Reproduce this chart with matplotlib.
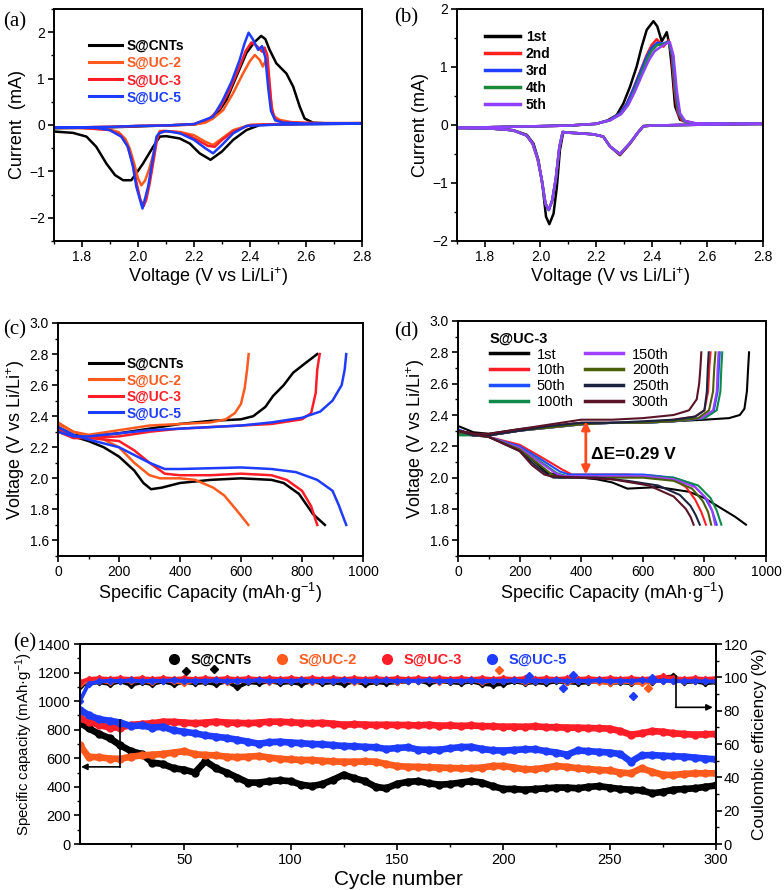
import matplotlib
matplotlib.use("Agg")
import matplotlib.pyplot as plt
from matplotlib.ticker import MultipleLocator
from matplotlib.lines import Line2D

plt.rcParams['font.family'] = ['Liberation Sans', 'DejaVu Sans']
plt.rcParams['mathtext.fontset'] = 'custom'
plt.rcParams['mathtext.rm'] = 'Liberation Sans'
plt.rcParams['mathtext.it'] = 'Liberation Sans:italic'
plt.rcParams['axes.linewidth'] = 1.4

# ---------------- colours ----------------
C_BLACK = '#000000'
C_ORANGE = '#ff5a1e'
C_RED = '#ff1e28'
C_BLUE = '#1e3cff'

# ---------------- (a) CV curves ----------------
a_labels = ['S@CNTs', 'S@UC-2', 'S@UC-3', 'S@UC-5']
a_cnt_v = [1.70, 1.80, 1.90, 2.00, 2.10, 2.20, 2.244, 2.28, 2.316, 2.351, 2.387, 2.415, 2.44, 2.455, 2.47, 2.494,
           2.53, 2.554, 2.578, 2.595, 2.625, 2.70, 2.80,
           2.80, 2.60, 2.50, 2.435, 2.387, 2.34, 2.30, 2.259, 2.22, 2.185, 2.149, 2.10, 2.078, 2.054, 2.018,
           1.994, 1.976, 1.947, 1.918, 1.887, 1.851, 1.816, 1.768, 1.70]
a_cnt_i = [-0.07, -0.06, -0.05, -0.03, -0.01, 0.01, 0.07, 0.22, 0.54, 1.04, 1.55, 1.78, 1.92, 1.85, 1.62, 1.33,
           1.11, 0.83, 0.39, 0.14, 0.05, 0.03, 0.03,
           0.03, 0.02, 0.01, 0.0, -0.11, -0.32, -0.57, -0.75, -0.61, -0.40, -0.29, -0.24, -0.25, -0.47, -0.83,
           -1.04, -1.19, -1.19, -1.08, -0.83, -0.47, -0.25, -0.17, -0.14]
a_uc2_v = [1.70, 1.80, 1.90, 2.00, 2.10, 2.20, 2.24, 2.268, 2.304, 2.339, 2.375, 2.40, 2.417, 2.435, 2.446, 2.458,
           2.466, 2.474, 2.483, 2.506, 2.55, 2.65, 2.80,
           2.80, 2.50, 2.40, 2.34, 2.30, 2.268, 2.24, 2.20, 2.15, 2.10, 2.078, 2.07, 2.055, 2.04, 2.025, 2.012,
           2.0, 1.985, 1.97, 1.955, 1.93, 1.90, 1.80, 1.70]
a_uc2_i = [-0.06, -0.05, -0.04, -0.02, -0.01, 0.01, 0.05, 0.14, 0.32, 0.68, 1.11, 1.38, 1.51, 1.40, 1.26, 1.42,
           1.10, 0.55, 0.20, 0.11, 0.06, 0.04, 0.04,
           0.04, 0.02, 0.0, -0.11, -0.29, -0.43, -0.36, -0.22, -0.15, -0.13, -0.13, -0.25, -0.62, -0.95, -1.2, -1.3,
           -1.15, -0.8, -0.5, -0.3, -0.15, -0.1, -0.07, -0.06]
a_uc3_v = [1.70, 1.80, 1.90, 2.00, 2.10, 2.20, 2.256, 2.292, 2.327, 2.363, 2.385, 2.405, 2.425, 2.443, 2.452, 2.462,
           2.47, 2.478, 2.49, 2.52, 2.60, 2.80,
           2.80, 2.50, 2.40, 2.34, 2.30, 2.274, 2.25, 2.22, 2.18, 2.13, 2.09, 2.078, 2.068, 2.058, 2.042, 2.03, 2.02,
           2.008, 1.995, 1.98, 1.962, 1.94, 1.90, 1.80, 1.70]
a_uc3_i = [-0.06, -0.05, -0.04, -0.02, -0.01, 0.02, 0.14, 0.36, 0.75, 1.26, 1.6, 1.78, 1.7, 1.58, 1.67, 1.5,
           0.9, 0.35, 0.12, 0.06, 0.04, 0.04,
           0.04, 0.02, 0.0, -0.14, -0.32, -0.47, -0.45, -0.35, -0.22, -0.15, -0.13, -0.15, -0.3, -0.68, -1.25, -1.6,
           -1.75, -1.6, -1.25, -0.8, -0.45, -0.23, -0.11, -0.06, -0.05]
a_uc5_v = [1.70, 1.80, 1.90, 2.00, 2.10, 2.20, 2.268, 2.30, 2.334, 2.363, 2.38, 2.395, 2.41, 2.429, 2.443, 2.455,
           2.465, 2.475, 2.49, 2.52, 2.60, 2.80,
           2.80, 2.50, 2.387, 2.34, 2.30, 2.268, 2.24, 2.20, 2.15, 2.10, 2.075, 2.066, 2.054, 2.036, 2.016, 1.994,
           1.982, 1.964, 1.94, 1.899, 1.84, 1.70]
a_uc5_i = [-0.06, -0.05, -0.04, -0.02, -0.01, 0.02, 0.18, 0.50, 0.93, 1.40, 1.75, 1.99, 1.85, 1.62, 1.70, 1.45,
           0.8, 0.3, 0.1, 0.05, 0.03, 0.03,
           0.03, 0.01, -0.02, -0.18, -0.43, -0.61, -0.5, -0.32, -0.18, -0.13, -0.18, -0.25, -0.68, -1.33, -1.8, -1.33,
           -0.9, -0.47, -0.25, -0.11, -0.05, -0.05]

# ---------------- (b) CV cycles ----------------
b_labels = ['1st', '2nd', '3rd', '4th', '5th']
b1_v = [1.70, 1.80, 1.90, 2.00, 2.10, 2.20, 2.238, 2.274, 2.298, 2.322, 2.346, 2.364, 2.382, 2.406, 2.42, 2.436,
        2.454, 2.463, 2.472, 2.484, 2.502, 2.55, 2.80,
        2.80, 2.50, 2.40, 2.37, 2.352, 2.322, 2.286, 2.25, 2.226, 2.19, 2.13, 2.095, 2.082, 2.07, 2.059, 2.047,
        2.032, 2.02, 2.008, 1.993, 1.975, 1.951, 1.903, 1.82, 1.70]
b1_i = [-0.05, -0.04, -0.03, -0.02, -0.01, 0.02, 0.07, 0.17, 0.37, 0.66, 1.01, 1.35, 1.64, 1.79, 1.7, 1.44,
        1.6, 1.4, 1.01, 0.32, 0.09, 0.03, 0.02,
        0.02, 0.0, -0.01, -0.02, -0.12, -0.32, -0.52, -0.37, -0.2, -0.16, -0.14, -0.13, -0.12, -0.43, -1.07, -1.53,
        -1.71, -1.58, -1.07, -0.61, -0.32, -0.17, -0.09, -0.06, -0.05]
b2_v = [1.70, 1.80, 1.90, 2.00, 2.10, 2.20, 2.25, 2.286, 2.31, 2.334, 2.358, 2.382, 2.40, 2.418, 2.442, 2.46,
        2.472, 2.482, 2.494, 2.51, 2.55, 2.80,
        2.80, 2.50, 2.40, 2.37, 2.352, 2.322, 2.286, 2.25, 2.226, 2.19, 2.13, 2.09, 2.08, 2.068, 2.055, 2.042,
        2.03, 2.018, 2.005, 1.99, 1.972, 1.95, 1.90, 1.82, 1.70]
b2_i = [-0.05, -0.04, -0.03, -0.02, -0.01, 0.02, 0.09, 0.2, 0.37, 0.63, 0.92, 1.21, 1.38, 1.48, 1.35, 1.46,
        1.2, 0.6, 0.2, 0.07, 0.03, 0.02,
        0.02, 0.0, -0.01, -0.02, -0.12, -0.32, -0.51, -0.37, -0.2, -0.16, -0.14, -0.13, -0.12, -0.4, -0.95, -1.32,
        -1.46, -1.35, -0.95, -0.6, -0.33, -0.18, -0.09, -0.06, -0.05]
b3_v = [1.70, 1.80, 1.90, 2.00, 2.10, 2.20, 2.25, 2.286, 2.31, 2.334, 2.358, 2.382, 2.40, 2.42, 2.44, 2.46,
        2.474, 2.485, 2.497, 2.515, 2.55, 2.80,
        2.80, 2.50, 2.40, 2.37, 2.352, 2.322, 2.286, 2.25, 2.226, 2.19, 2.13, 2.09, 2.08, 2.068, 2.055, 2.042,
        2.03, 2.018, 2.005, 1.99, 1.972, 1.95, 1.90, 1.82, 1.70]
b3_i = [-0.05, -0.04, -0.03, -0.02, -0.01, 0.02, 0.09, 0.2, 0.36, 0.62, 0.9, 1.18, 1.33, 1.42, 1.4, 1.44,
        1.2, 0.6, 0.2, 0.07, 0.03, 0.02,
        0.02, 0.0, -0.01, -0.02, -0.12, -0.31, -0.5, -0.37, -0.2, -0.16, -0.14, -0.13, -0.12, -0.38, -0.93, -1.3,
        -1.47, -1.36, -0.95, -0.58, -0.32, -0.18, -0.09, -0.06, -0.05]
b4_v = [1.70, 1.80, 1.90, 2.00, 2.10, 2.20, 2.25, 2.29, 2.315, 2.338, 2.362, 2.385, 2.40, 2.42, 2.44, 2.462,
        2.476, 2.487, 2.499, 2.517, 2.55, 2.80,
        2.80, 2.50, 2.40, 2.37, 2.352, 2.322, 2.286, 2.25, 2.226, 2.19, 2.13, 2.09, 2.08, 2.068, 2.055, 2.042,
        2.03, 2.018, 2.005, 1.99, 1.972, 1.95, 1.90, 1.82, 1.70]
b4_i = [-0.05, -0.04, -0.03, -0.02, -0.01, 0.02, 0.08, 0.19, 0.35, 0.6, 0.88, 1.15, 1.28, 1.38, 1.39, 1.43,
        1.2, 0.6, 0.2, 0.07, 0.03, 0.02,
        0.02, 0.0, -0.01, -0.02, -0.12, -0.31, -0.5, -0.37, -0.2, -0.16, -0.14, -0.13, -0.12, -0.38, -0.93, -1.3,
        -1.46, -1.36, -0.95, -0.58, -0.32, -0.18, -0.09, -0.06, -0.05]
b5_v = [1.70, 1.80, 1.90, 2.00, 2.10, 2.20, 2.25, 2.29, 2.315, 2.34, 2.365, 2.39, 2.41, 2.43, 2.45, 2.465,
        2.478, 2.49, 2.502, 2.52, 2.56, 2.80,
        2.80, 2.50, 2.40, 2.37, 2.352, 2.322, 2.286, 2.25, 2.226, 2.19, 2.13, 2.09, 2.08, 2.068, 2.055, 2.042,
        2.03, 2.018, 2.005, 1.99, 1.972, 1.95, 1.90, 1.82, 1.70]
b5_i = [-0.05, -0.04, -0.03, -0.02, -0.01, 0.02, 0.08, 0.19, 0.34, 0.58, 0.86, 1.12, 1.27, 1.34, 1.4, 1.43,
        1.2, 0.6, 0.2, 0.07, 0.03, 0.02,
        0.02, 0.0, -0.01, -0.02, -0.12, -0.31, -0.5, -0.37, -0.2, -0.16, -0.14, -0.13, -0.12, -0.38, -0.93, -1.3,
        -1.46, -1.36, -0.95, -0.58, -0.32, -0.18, -0.09, -0.06, -0.05]

# ---------------- (c) charge / discharge ----------------
c_cnt_dis_q = [0, 50, 100, 150, 200, 250, 280, 305, 340, 400, 500, 600, 700, 740, 790, 836, 875]
c_cnt_dis_v = [2.31, 2.27, 2.24, 2.20, 2.14, 2.05, 1.97, 1.93, 1.94, 1.97, 1.99, 2.0, 1.99, 1.97, 1.90, 1.77, 1.70]
c_cnt_chg_q = [0, 50, 100, 150, 200, 300, 400, 500, 600, 640, 680, 705, 740, 771, 810, 850]
c_cnt_chg_v = [2.33, 2.28, 2.27, 2.28, 2.29, 2.32, 2.35, 2.37, 2.38, 2.40, 2.46, 2.53, 2.60, 2.68, 2.74, 2.80]
c_uc2_dis_q = [0, 50, 100, 150, 200, 250, 300, 335, 400, 450, 509, 545, 575, 600, 624]
c_uc2_dis_v = [2.35, 2.30, 2.27, 2.25, 2.20, 2.10, 2.02, 2.00, 2.00, 1.99, 1.94, 1.89, 1.82, 1.76, 1.70]
c_uc2_chg_q = [0, 50, 100, 200, 300, 400, 500, 550, 580, 600, 612, 620, 625]
c_uc2_chg_v = [2.36, 2.30, 2.28, 2.31, 2.34, 2.35, 2.36, 2.38, 2.42, 2.48, 2.58, 2.70, 2.80]
c_uc3_dis_q = [0, 50, 100, 200, 250, 300, 350, 400, 500, 600, 700, 750, 800, 830, 850]
c_uc3_dis_v = [2.30, 2.26, 2.26, 2.24, 2.18, 2.10, 2.03, 2.02, 2.02, 2.03, 2.02, 1.99, 1.92, 1.82, 1.70]
c_uc3_chg_q = [0, 50, 100, 200, 300, 400, 500, 600, 700, 800, 830, 845, 850, 858]
c_uc3_chg_v = [2.32, 2.26, 2.26, 2.27, 2.30, 2.32, 2.33, 2.34, 2.35, 2.38, 2.42, 2.55, 2.70, 2.80]
c_uc5_dis_q = [0, 50, 100, 200, 300, 350, 400, 600, 700, 780, 850, 900, 920, 945]
c_uc5_dis_v = [2.33, 2.28, 2.25, 2.20, 2.10, 2.06, 2.06, 2.07, 2.06, 2.04, 1.99, 1.92, 1.83, 1.70]
c_uc5_chg_q = [0, 50, 100, 200, 300, 400, 600, 700, 800, 860, 900, 930, 940, 945]
c_uc5_chg_v = [2.30, 2.27, 2.27, 2.29, 2.31, 2.32, 2.34, 2.36, 2.39, 2.43, 2.50, 2.60, 2.70, 2.80]

# ---------------- (d) S@UC-3 cycles ----------------
d_labels = ['1st', '10th', '50th', '100th', '150th', '200th', '250th', '300th']
d_dis_q = [
    [0, 50, 100, 200, 250, 290, 350, 450, 500, 550, 650, 750, 800, 850, 900, 935],
    [0, 100, 200, 280, 340, 370, 450, 550, 650, 700, 740, 770, 790, 805],
    [0, 100, 200, 275, 330, 360, 500, 600, 700, 760, 800, 825, 840],
    [0, 100, 200, 270, 320, 350, 500, 600, 700, 780, 820, 840, 855],
    [0, 100, 200, 265, 315, 340, 500, 600, 700, 770, 810, 825, 835],
    [0, 100, 200, 260, 305, 330, 500, 600, 700, 760, 795, 812, 822],
    [0, 100, 200, 250, 290, 310, 450, 550, 650, 720, 755, 772, 785],
    [0, 100, 200, 240, 280, 300, 400, 500, 620, 700, 740, 755, 765],
]
d_dis_v = [
    [2.30, 2.28, 2.26, 2.18, 2.10, 2.03, 2.01, 1.99, 1.97, 1.93, 1.94, 1.91, 1.87, 1.81, 1.75, 1.70],
    [2.28, 2.26, 2.21, 2.12, 2.05, 2.02, 2.02, 2.02, 2.01, 1.99, 1.94, 1.86, 1.78, 1.70],
    [2.29, 2.26, 2.20, 2.11, 2.04, 2.02, 2.02, 2.02, 2.00, 1.96, 1.88, 1.79, 1.70],
    [2.28, 2.26, 2.19, 2.10, 2.03, 2.01, 2.01, 2.01, 2.00, 1.95, 1.87, 1.79, 1.70],
    [2.29, 2.26, 2.19, 2.10, 2.03, 2.01, 2.01, 2.01, 1.99, 1.94, 1.86, 1.79, 1.70],
    [2.29, 2.26, 2.18, 2.09, 2.02, 2.00, 2.00, 2.00, 1.98, 1.93, 1.85, 1.78, 1.70],
    [2.30, 2.26, 2.17, 2.08, 2.02, 2.00, 2.00, 1.98, 1.95, 1.89, 1.82, 1.76, 1.70],
    [2.30, 2.26, 2.17, 2.08, 2.02, 2.01, 2.00, 1.99, 1.95, 1.88, 1.80, 1.75, 1.70],
]
d_chg_q = [
    [0, 50, 100, 200, 300, 400, 500, 600, 700, 800, 880, 915, 930, 938, 942, 945],
    [0, 50, 100, 200, 300, 400, 500, 600, 700, 770, 800, 812, 816, 820],
    [0, 50, 100, 200, 300, 400, 500, 600, 700, 800, 830, 843, 847, 850],
    [0, 50, 100, 200, 300, 400, 500, 600, 700, 800, 840, 852, 855, 858],
    [0, 50, 100, 200, 300, 400, 500, 600, 700, 790, 828, 840, 843, 846],
    [0, 50, 100, 200, 300, 400, 500, 600, 700, 780, 815, 828, 832, 836],
    [0, 50, 100, 200, 300, 400, 500, 600, 700, 770, 800, 808, 811, 814],
    [0, 50, 100, 200, 300, 400, 500, 600, 700, 750, 775, 783, 787, 790],
]
d_chg_v = [
    [2.33, 2.29, 2.28, 2.31, 2.33, 2.35, 2.35, 2.35, 2.36, 2.37, 2.38, 2.40, 2.44, 2.55, 2.70, 2.80],
    [2.30, 2.27, 2.27, 2.30, 2.33, 2.35, 2.35, 2.35, 2.37, 2.39, 2.43, 2.55, 2.70, 2.80],
    [2.31, 2.27, 2.27, 2.30, 2.32, 2.34, 2.35, 2.35, 2.36, 2.38, 2.42, 2.55, 2.70, 2.80],
    [2.27, 2.27, 2.27, 2.30, 2.32, 2.34, 2.35, 2.35, 2.36, 2.38, 2.43, 2.55, 2.70, 2.80],
    [2.30, 2.27, 2.27, 2.30, 2.32, 2.34, 2.35, 2.35, 2.36, 2.38, 2.43, 2.55, 2.70, 2.80],
    [2.30, 2.27, 2.27, 2.30, 2.32, 2.34, 2.35, 2.35, 2.36, 2.38, 2.43, 2.55, 2.70, 2.80],
    [2.30, 2.27, 2.27, 2.30, 2.33, 2.35, 2.35, 2.36, 2.37, 2.39, 2.43, 2.55, 2.70, 2.80],
    [2.30, 2.28, 2.28, 2.31, 2.34, 2.37, 2.37, 2.38, 2.40, 2.43, 2.50, 2.60, 2.70, 2.80],
]
d_colors = ['#000000', '#ff1e28', '#1e50ff', '#0f8a4a', '#a040ff', '#4a5e0a', '#1c2340', '#5a1428']

# ---------------- (e) cycling ----------------
e_cycles = [1, 5, 10, 15, 20, 25, 30, 35, 40, 45, 50, 55, 60, 65, 70, 75, 80, 85, 90, 95, 100,
            105, 110, 115, 120, 125, 130, 135, 140, 145, 150, 155, 160, 165, 170, 175, 180, 185, 190, 195, 200,
            205, 210, 215, 220, 225, 230, 235, 240, 245, 250, 255, 260, 265, 270, 275, 280, 285, 290, 295, 300]
e_cnt_cap = [850, 810, 770, 740, 690, 650, 630, 570, 560, 530, 520, 500, 580, 530, 500, 465, 430, 430, 440, 445, 440,
             415, 405, 420, 450, 485, 460, 440, 400, 390, 420, 435, 440, 425, 415, 420, 430, 440, 430, 405, 385,
             385, 380, 385, 390, 395, 395, 390, 400, 405, 395, 385, 380, 375, 355, 365, 380, 385, 390, 400, 410]
e_uc2_cap = [690, 610, 607, 598, 596, 611, 620, 625, 630, 640, 650, 628, 623, 620, 611, 608, 611, 616, 605, 596, 592,
             588, 588, 582, 578, 576, 576, 578, 576, 560, 546, 541, 540, 537, 535, 532, 530, 530, 535, 546, 546,
             535, 523, 523, 535, 546, 540, 530, 525, 518, 515, 500, 495, 530, 505, 485, 483, 490, 495, 495, 495]
e_uc3_cap = [880, 856, 833, 815, 815, 833, 840, 845, 856, 855, 850, 845, 850, 856, 850, 848, 845, 850, 856, 856, 852,
             848, 845, 848, 842, 835, 838, 836, 833, 835, 833, 833, 830, 835, 828, 830, 826, 830, 825, 824, 821,
             822, 820, 824, 818, 817, 815, 814, 812, 810, 808, 790, 765, 775, 790, 786, 775, 770, 765, 768, 770]
e_uc5_cap = [940, 903, 873, 863, 850, 825, 830, 815, 821, 795, 786, 775, 760, 751, 742, 730, 716, 702, 712, 716, 710,
             706, 700, 698, 692, 686, 684, 680, 677, 665, 672, 677, 660, 660, 660, 670, 678, 680, 665, 656, 654,
             658, 663, 663, 650, 640, 625, 655, 650, 645, 640, 630, 576, 620, 623, 618, 614, 612, 605, 598, 593]
e_cnt_ce = [95, 96.5, 97, 96, 97.5, 95.5, 97, 96, 97.5, 96, 97, 96.5, 97, 96, 97.5, 94, 97, 96.5, 97.5, 96.5, 97,
            96, 97.5, 96.5, 97, 96, 97.5, 96, 97, 96.5, 97, 97.5, 98, 96.5, 97.5, 97, 96.5, 97.5, 96, 95.5, 96,
            97.5, 96.5, 97, 96.5, 97.5, 97, 96.5, 97, 97.5, 96.5, 97, 96.5, 97.5, 97, 100, 100.5, 97, 97.5, 96.5, 97]
e_uc2_ce = [96, 97.5, 98, 97, 98.5, 97.5, 98, 97, 98.5, 97.5, 96.5, 98, 97.5, 98.5, 97, 98, 97.5, 98.5, 97, 98, 97.5,
            98.5, 97, 98, 97.5, 98.5, 97, 98, 97.5, 98.5, 97, 98, 97.5, 98.5, 97, 98, 97.5, 98.5, 97, 98, 97.5,
            98.5, 97, 98, 97.5, 98.5, 97, 98, 97.5, 97, 96.5, 97.5, 97, 96.5, 97.5, 98, 97.5, 98, 97.5, 98, 97.5]
e_uc3_ce = [97, 99, 99.5, 99, 99.5, 99, 99.5, 99, 99.5, 99, 99.5, 99, 99.5, 99, 99.5, 99, 99.5, 99, 99.5, 99, 99.5,
            99, 99.5, 99, 99.5, 99, 99.5, 99, 99.5, 99, 99.5, 99, 99.5, 99, 99.5, 99, 99.5, 99, 99.5, 99, 99.5,
            99, 99.5, 99, 99.5, 99, 99.5, 99, 99.5, 99, 99.5, 99, 99.5, 99, 99.5, 100.5, 99.5, 99, 99.5, 99, 99.5]
e_uc5_ce = [86, 96, 97.5, 98, 97.8, 98.2, 97.6, 98, 97.8, 98.3, 97.7, 98, 97.8, 98.2, 97.6, 98, 97.8, 98.3, 97.7, 98, 97.8,
            98.2, 97.6, 98, 97.8, 98.3, 97.7, 98, 97.8, 98.2, 97.6, 98, 97.8, 98.3, 97.7, 98, 97.8, 98.2, 97.6, 98, 97.8,
            98.2, 97.6, 98, 97.8, 98.3, 97.7, 98, 97.8, 98.2, 97.6, 98, 97.8, 98.3, 97.7, 98, 97.8, 97.6, 97.8, 97.5, 97.6]
e_cnt_ce_out_c = [51, 64]
e_cnt_ce_out_v = [103.6, 104.8]
e_uc2_ce_out_c = [198, 268]
e_uc2_ce_out_v = [104.5, 93.5]
e_uc5_ce_out_c = [212, 228, 233, 261, 270]
e_uc5_ce_out_v = [101.0, 93.5, 101.6, 89.0, 99.5]
e_labels = ['S@CNTs', 'S@UC-2', 'S@UC-3', 'S@UC-5']
e_colors = [C_BLACK, C_ORANGE, C_RED, C_BLUE]

# =====================================================
W, H = 784, 890
fig = plt.figure(figsize=(W / 100, H / 100), dpi=100)


def ax_px(l, t, r, b):
    return fig.add_axes([l / W, 1 - b / H, (r - l) / W, (b - t) / H])


TICK_FS = 10
LAB_FS = 13


def style(ax):
    ax.tick_params(which='major', direction='out', length=4.5, width=1.2, labelsize=TICK_FS, pad=2,
                   top=False, right=False)
    ax.tick_params(which='minor', direction='out', length=2.5, width=1.0, top=False, right=False)


lw = 1.8
a_cols = [C_BLACK, C_ORANGE, C_RED, C_BLUE]

# ---- (a)
axa = ax_px(54, 9, 362, 241)
for v, i, c, lab in zip([a_cnt_v, a_uc2_v, a_uc3_v, a_uc5_v], [a_cnt_i, a_uc2_i, a_uc3_i, a_uc5_i],
                        a_cols, a_labels):
    axa.plot(v, i, color=c, lw=lw, label=lab)
axa.set_xlim(1.7, 2.8)
axa.set_ylim(-2.5, 2.5)
axa.set_xticks([1.8, 2.0, 2.2, 2.4, 2.6, 2.8])
axa.xaxis.set_minor_locator(MultipleLocator(0.1))
axa.yaxis.set_major_locator(MultipleLocator(1))
axa.yaxis.set_minor_locator(MultipleLocator(0.5))
style(axa)
axa.set_xlabel('Voltage (V vs Li/Li$^{+}$)', fontsize=LAB_FS, labelpad=1)
axa.set_ylabel('Current  (mA)', fontsize=LAB_FS, labelpad=2)
lg = axa.legend(loc='upper left', bbox_to_anchor=(0.09, 0.9), frameon=False, handlelength=2.4,
                handletextpad=0.3, labelspacing=0.22, borderpad=0, prop={'weight': 'bold', 'size': 10})
for t, c in zip(lg.get_texts(), a_cols):
    t.set_color(c)
for h in lg.legend_handles:
    h.set_linewidth(2.2)

# ---- (b)
axb = ax_px(457, 9, 763, 241)
b_cols = [C_BLACK, '#ff2020', '#2040ff', '#1a8a3a', '#9040ff']
for v, i, c, lab in zip([b1_v, b2_v, b3_v, b4_v, b5_v], [b1_i, b2_i, b3_i, b4_i, b5_i], b_cols, b_labels):
    axb.plot(v, i, color=c, lw=lw, label=lab)
axb.set_xlim(1.7, 2.8)
axb.set_ylim(-2, 2)
axb.set_xticks([1.8, 2.0, 2.2, 2.4, 2.6, 2.8])
axb.xaxis.set_minor_locator(MultipleLocator(0.1))
axb.yaxis.set_major_locator(MultipleLocator(1))
axb.yaxis.set_minor_locator(MultipleLocator(0.5))
style(axb)
axb.set_xlabel('Voltage (V vs Li/Li$^{+}$)', fontsize=LAB_FS, labelpad=1)
axb.set_ylabel('Current (mA)', fontsize=LAB_FS, labelpad=2)
lg = axb.legend(loc='upper left', bbox_to_anchor=(0.07, 0.94), frameon=False, handlelength=2.5,
                handletextpad=0.4, labelspacing=0.22, borderpad=0, prop={'weight': 'bold', 'size': 10})
for h in lg.legend_handles:
    h.set_linewidth(2.5)

# ---- (c)
axc = ax_px(58, 323, 363, 556)
c_series = [(c_cnt_dis_q, c_cnt_dis_v, c_cnt_chg_q, c_cnt_chg_v),
            (c_uc2_dis_q, c_uc2_dis_v, c_uc2_chg_q, c_uc2_chg_v),
            (c_uc3_dis_q, c_uc3_dis_v, c_uc3_chg_q, c_uc3_chg_v),
            (c_uc5_dis_q, c_uc5_dis_v, c_uc5_chg_q, c_uc5_chg_v)]
for (dq, dv, cq, cv), c, lab in zip(c_series, a_cols, a_labels):
    axc.plot(dq, dv, color=c, lw=lw, label=lab)
    axc.plot(cq, cv, color=c, lw=lw)
axc.set_xlim(0, 1000)
axc.set_ylim(1.5, 3.0)
axc.xaxis.set_major_locator(MultipleLocator(200))
axc.xaxis.set_minor_locator(MultipleLocator(100))
axc.set_yticks([1.6, 1.8, 2.0, 2.2, 2.4, 2.6, 2.8, 3.0])
axc.yaxis.set_minor_locator(MultipleLocator(0.1))
style(axc)
axc.set_xlabel('Specific Capacity (mAh·g$^{-1}$)', fontsize=LAB_FS, labelpad=1)
axc.set_ylabel('Voltage (V vs Li/Li$^{+}$)', fontsize=LAB_FS, labelpad=2)
lg = axc.legend(loc='upper left', bbox_to_anchor=(0.08, 0.885), frameon=False, handlelength=2.4,
                handletextpad=0.3, labelspacing=0.18, borderpad=0, prop={'weight': 'bold', 'size': 10})
for t, c in zip(lg.get_texts(), a_cols):
    t.set_color(c)
for h in lg.legend_handles:
    h.set_linewidth(2.2)

# ---- (d)
axd = ax_px(458, 321, 766, 556)
for dq, dv, cq, cv, c, lab in zip(d_dis_q, d_dis_v, d_chg_q, d_chg_v, d_colors, d_labels):
    axd.plot(dq, dv, color=c, lw=1.5, label=lab)
    axd.plot(cq, cv, color=c, lw=1.5)
axd.set_xlim(0, 1000)
axd.set_ylim(1.5, 3.0)
axd.xaxis.set_major_locator(MultipleLocator(200))
axd.xaxis.set_minor_locator(MultipleLocator(100))
axd.set_yticks([1.6, 1.8, 2.0, 2.2, 2.4, 2.6, 2.8, 3.0])
axd.yaxis.set_minor_locator(MultipleLocator(0.1))
style(axd)
axd.set_xlabel('Specific Capacity (mAh·g$^{-1}$)', fontsize=LAB_FS, labelpad=1)
axd.set_ylabel('Voltage (V vs Li/Li$^{+}$)', fontsize=LAB_FS, labelpad=2)
lg = axd.legend(loc='upper left', bbox_to_anchor=(0.08, 0.985), frameon=False, ncol=2, handlelength=2.6,
                handletextpad=0.6, labelspacing=0.12, columnspacing=0.8, borderpad=0,
                title='S@UC-3', alignment='left',
                title_fontproperties={'weight': 'bold', 'size': 10.5}, prop={'size': 10.5})
for h in lg.legend_handles:
    h.set_linewidth(2.5)
axd.annotate('', xy=(415, 2.02), xytext=(415, 2.36),
             arrowprops=dict(arrowstyle='<|-|>', color='#ff4a1e', lw=2.0, mutation_scale=12,
                             shrinkA=0, shrinkB=0))
axd.text(433, 2.15, 'ΔE=0.29 V', fontsize=12.5, fontweight='bold', va='center', ha='left')

# ---- (e)
axe = ax_px(80, 644, 716, 844)
axe2 = axe.twinx()
for cap, c, lab in zip([e_cnt_cap, e_uc2_cap, e_uc3_cap, e_uc5_cap], e_colors, e_labels):
    axe.plot(e_cycles, cap, color=c, lw=4.8, marker='o', ms=5, solid_capstyle='round', label=lab)
for ce, c in zip([e_cnt_ce, e_uc2_ce, e_uc3_ce, e_uc5_ce], e_colors):
    axe2.plot(e_cycles, ce, color=c, lw=2.8, marker='D', ms=3.2)
axe2.plot(e_cnt_ce_out_c, e_cnt_ce_out_v, ls='none', marker='D', ms=4.5, color=C_BLACK)
axe2.plot(e_uc2_ce_out_c, e_uc2_ce_out_v, ls='none', marker='D', ms=4.5, color=C_ORANGE)
axe2.plot(e_uc5_ce_out_c, e_uc5_ce_out_v, ls='none', marker='D', ms=4.5, color=C_BLUE)
axe.set_xlim(1, 300)
axe.set_ylim(0, 1400)
axe2.set_ylim(0, 120)
axe.set_xticks([50, 100, 150, 200, 250, 300])
axe.xaxis.set_minor_locator(MultipleLocator(25))
axe.yaxis.set_major_locator(MultipleLocator(200))
axe.yaxis.set_minor_locator(MultipleLocator(100))
axe2.yaxis.set_major_locator(MultipleLocator(20))
axe2.yaxis.set_minor_locator(MultipleLocator(10))
style(axe)
axe.tick_params(labelsize=10.5)
axe2.tick_params(which='major', direction='out', length=4.5, width=1.2, labelsize=10.5, pad=1)
axe2.tick_params(which='minor', direction='out', length=2.5, width=1.0)
axe.set_xlabel('Cycle number', fontsize=15, labelpad=2)
axe.set_ylabel('Specific capacity (mAh·g$^{-1}$)', fontsize=10.8, labelpad=2)
axe2.set_ylabel('Coulombic efficiency (%)', fontsize=12.5, labelpad=3)
handles = [Line2D([], [], ls='none', marker='o', ms=7, color=c) for c in e_colors]
lg = axe.legend(handles, e_labels, loc='center left', bbox_to_anchor=(0.125, 0.92), ncol=4, frameon=False,
                handlelength=1.0, handletextpad=0.6, columnspacing=1.6, borderpad=0,
                prop={'weight': 'bold', 'size': 10.5})
for t, c in zip(lg.get_texts(), e_colors):
    t.set_color(c)
# guide arrows
axe.plot([20, 20], [870, 540], color='black', lw=1.2)
axe.annotate('', xy=(1.5, 540), xytext=(20, 540),
             arrowprops=dict(arrowstyle='-|>', color='black', lw=1.2, mutation_scale=9, shrinkA=0, shrinkB=0))
axe2.plot([281, 281], [101, 82], color='black', lw=1.2)
axe2.annotate('', xy=(298.5, 82), xytext=(281, 82),
              arrowprops=dict(arrowstyle='-|>', color='black', lw=1.2, mutation_scale=9, shrinkA=0, shrinkB=0))

# panel labels
for lab, x, y in [('(a)', 3, 22), ('(b)', 394, 18), ('(c)', 3, 330), ('(d)', 394, 332), ('(e)', 13, 643)]:
    fig.text(x / W, 1 - y / H, lab, fontsize=15, family='Liberation Serif', ha='left', va='center')

fig.savefig('out.png', dpi=100)
